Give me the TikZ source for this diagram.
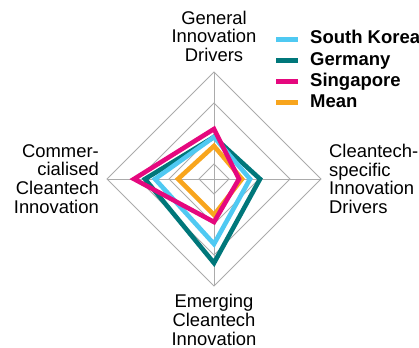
\documentclass[tikz,border=0pt]{standalone}
\usepackage{fontspec}
\setmainfont{Liberation Sans}
\usepackage{xcolor}
\usetikzlibrary{calc,positioning}
\definecolor{korea}{HTML}{4FC9F2}
\definecolor{germany}{HTML}{00777A}
\definecolor{singapore}{HTML}{E5087E}
\definecolor{mean}{HTML}{F8A51D}
\tikzset{
        gridline/.style = {draw=black!33, line width=0.9pt},
        series/.style = {line width=4.6pt, line join=miter},
        axislabel/.style = {inner sep=0pt,
            font=\fontsize{18.4}{18.8}\selectfont},
        legendtext/.style = {inner sep=0pt, anchor=base west,
            font=\bfseries\fontsize{18.5}{21}\selectfont},
        swatch/.style = {line width=5pt},
    }

\begin{document}
\begin{tikzpicture}[x=1pt,y=1pt]
    \useasboundingbox (0,0) rectangle (419,347);

    \coordinate (c) at (214,168);
    % axis ends
    \path (c) ++(0,107) coordinate (topv)
          (c) ++(107,0) coordinate (rightv)
          (c) ++(0,-107) coordinate (bottomv)
          (c) ++(-107,0) coordinate (leftv);

    % grid
    \foreach \r in {15,45,76,107}
        \draw[gridline] ($(c)+(0,\r)$) -- ($(c)+(\r,0)$) -- ($(c)+(0,-\r)$) -- ($(c)+(-\r,0)$) -- cycle;
    \draw[gridline] (topv) -- (bottomv) (leftv) -- (rightv);

    % data: top/right/bottom/left
    \foreach \a/\b/\d/\e/\col in {42/46/84/69/germany, 42/36/65/59/korea,
                                  33/28/36/36/mean, 50/25/43/80/singapore}
        \draw[series, \col] ($(c)+(0,\a)$) -- ($(c)+(\b,0)$) -- ($(c)+(0,-\d)$) -- ($(c)+(-\e,0)$) -- cycle;

    % labels
    \node[axislabel, align=center, anchor=south, above=10pt of topv] (lgen) {General\\Innovation\\Drivers};
    \node[axislabel, align=left, anchor=west, right=8pt of rightv] (lspec) {Cleantech-\\specific\\Innovation\\Drivers};
    \node[axislabel, align=center, anchor=north, below=8pt of bottomv] (lemer) {Emerging\\Cleantech\\Innovation};
    \node[axislabel, align=right, anchor=east, left=8pt of leftv] (lcomm) {Commer-\\cialised\\Cleantech\\Innovation};

    % legend
    \foreach \name/\col [count=\i] in {South Korea/korea, Germany/germany, Singapore/singapore, Mean/mean} {
        \coordinate (sw\i) at (276,{329-21.1*\i});
        \draw[swatch, \col] (sw\i) -- ++(22,0);
        \node[legendtext] (leg\i) at ($(sw\i)+(34,-4.9)$) {\name};
    }
\end{tikzpicture}
\end{document}
